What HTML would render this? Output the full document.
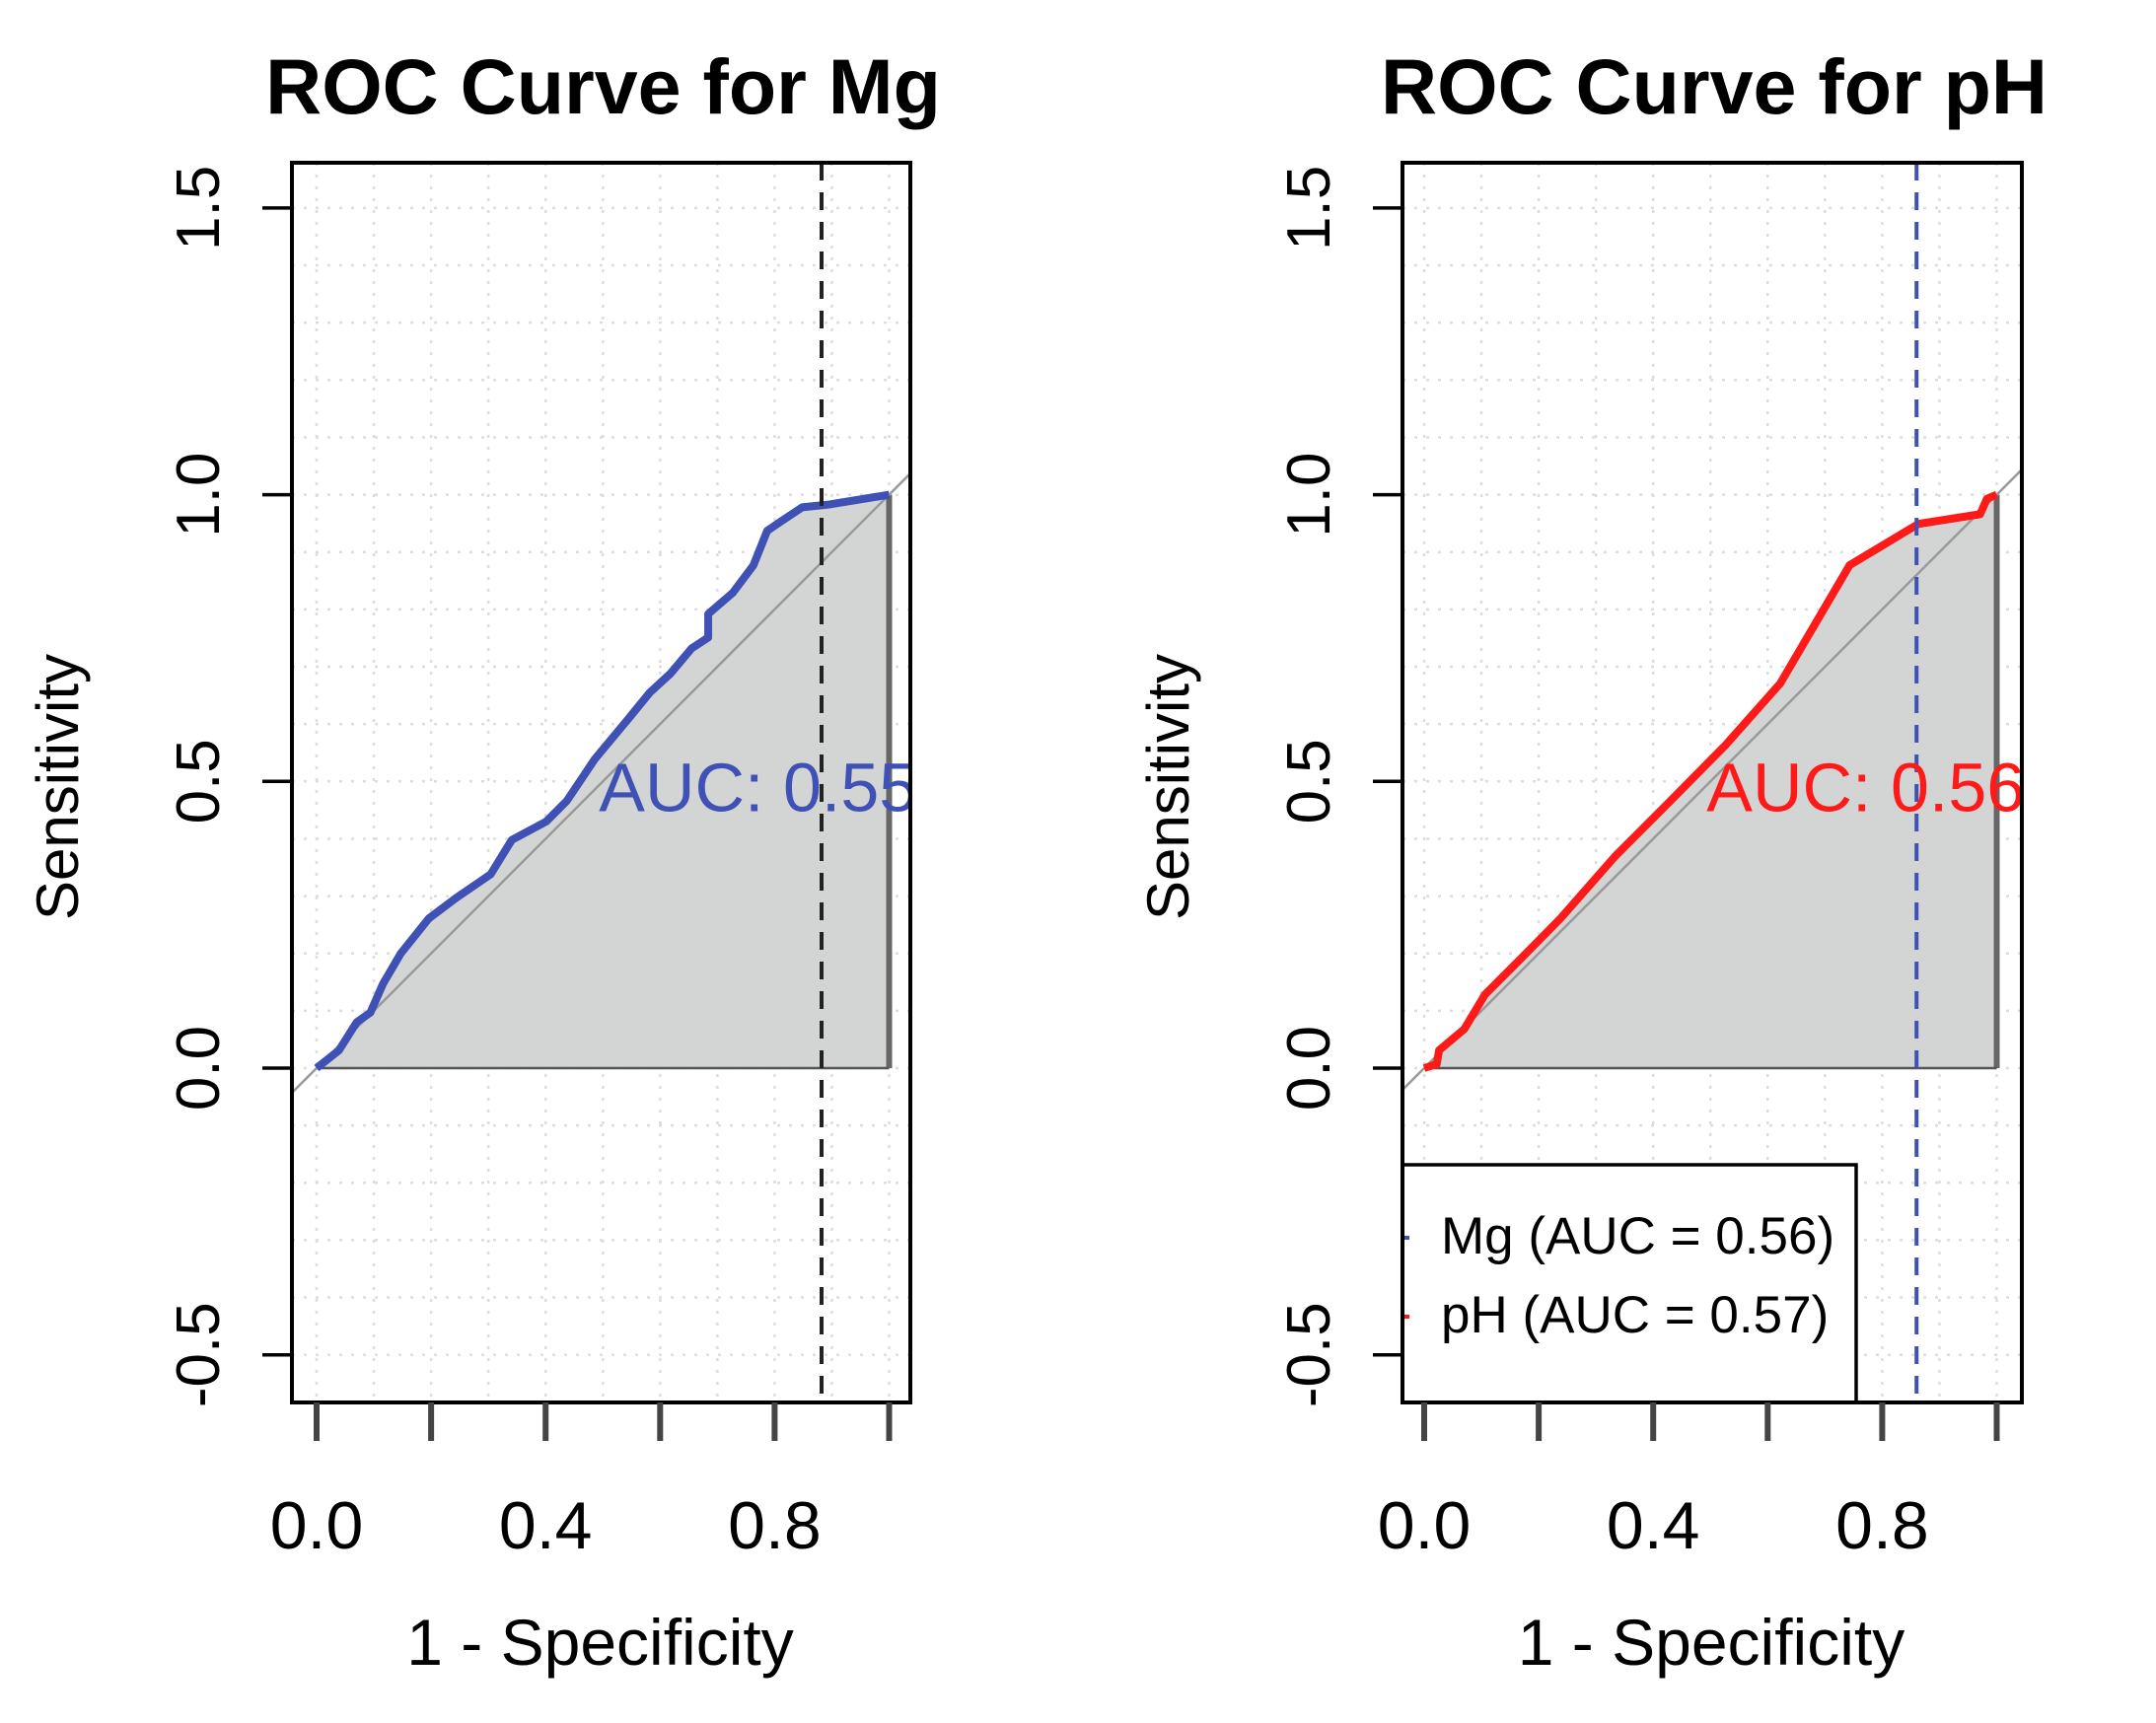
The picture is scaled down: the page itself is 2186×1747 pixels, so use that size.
<!DOCTYPE html>
<html><head><meta charset="utf-8"><style>
body{margin:0;background:#fff}
svg{display:block}
text{font-family:"Liberation Sans",Arial,sans-serif}
</style></head><body>
<svg id="c" width="2186" height="1747" viewBox="0 0 2186 1747" xmlns="http://www.w3.org/2000/svg"></svg>
<script>
// Mg panel data
const mgFpr = [0,0.039,0.07,0.094,0.116,0.147,0.196,0.244,0.304,0.341,0.401,0.437,0.486,0.546,0.582,0.618,0.655,0.684,0.684,0.727,0.763,0.787,0.812,0.848,0.896,1];
const mgTpr = [0,0.031,0.08,0.097,0.147,0.200,0.261,0.297,0.338,0.398,0.430,0.466,0.539,0.611,0.655,0.688,0.732,0.751,0.792,0.829,0.877,0.937,0.954,0.978,0.983,1];
// pH panel data
const phFpr = [0,0.022,0.026,0.07,0.106,0.166,0.238,0.334,0.430,0.526,0.622,0.743,0.803,0.863,0.971,0.983,1];
const phTpr = [0,0.007,0.031,0.068,0.128,0.188,0.261,0.370,0.466,0.563,0.671,0.877,0.913,0.949,0.966,0.993,1];
const xTicks = [0,0.2,0.4,0.6,0.8,1.0];
const xTickLabels = ["0.0","","0.4","","0.8",""];
const yTicks = [-0.5,0,0.5,1.0,1.5];
const yTickLabels = ["-0.5","0.0","0.5","1.0","1.5"];
const titles = ["ROC Curve for Mg","ROC Curve for pH"];
const aucLabels = ["AUC: 0.55","AUC: 0.56"];
const cutoffs = [0.882,0.86];
const legendLabels = ["Mg (AUC = 0.56)","pH (AUC = 0.57)"];

const NS="http://www.w3.org/2000/svg";
const svg=document.getElementById('c');
function mk(tag,attrs,parent){const e=document.createElementNS(NS,tag);for(const k in attrs)e.setAttribute(k,attrs[k]);(parent||svg).appendChild(e);return e;}

function panel(idx,ox,fpr,tpr,col,vcol,bx0,bx1){
  const g=mk('g',{});
  
  
  const sx=v=>ox+v*580.5;
  const sy=v=>1083-v*581.4;
  const top=165,bot=1422;
  const cid='clip'+idx;
  const cp=mk('clipPath',{id:cid},g);mk('rect',{x:bx0,y:top,width:bx1-bx0,height:bot-top},cp);
  const inner=mk('g',{'clip-path':'url(#'+cid+')'},g);
  for(let i=-1;i<=11;i++){const v=i/10;mk('line',{x1:sx(v),x2:sx(v),y1:top,y2:bot,stroke:'#ddd','stroke-width':2.5,'stroke-dasharray':'3 9'},inner);}
  for(let i=-7;i<=17;i++){const v=i/10;mk('line',{x1:bx0,x2:bx1,y1:sy(v),y2:sy(v),stroke:'#ddd','stroke-width':2.5,'stroke-dasharray':'3 9'},inner);}
  let d='M'+sx(fpr[0])+' '+sy(0);
  for(let i=0;i<fpr.length;i++)d+=' L'+sx(fpr[i])+' '+sy(tpr[i]);
  d+=' L'+sx(1)+' '+sy(0)+' Z';
  const f=mk('path',{d:d,fill:'#d3d5d5',stroke:'none'},inner);
  
  
  mk('line',{x1:sx(1),x2:sx(1),y1:sy(0),y2:sy(tpr[tpr.length-1]),stroke:'#666','stroke-width':6},inner);
  mk('line',{x1:sx(0),x2:sx(1),y1:sy(0),y2:sy(0),stroke:'#555','stroke-width':2.5},inner);
  const dg=mk('line',{x1:sx(-0.1),y1:sy(-0.1),x2:sx(1.2),y2:sy(1.2),stroke:'#999','stroke-width':2.5},inner);
  
  
  const pts=fpr.map((v,i)=>sx(v)+','+sy(tpr[i])).join(' ');
  const cv=mk('polyline',{points:pts,fill:'none',stroke:col,'stroke-width':8,'stroke-linejoin':'round'},inner);
  
  
  const cl=mk('line',{x1:sx(cutoffs[idx]),x2:sx(cutoffs[idx]),y1:top,y2:bot,stroke:vcol,'stroke-width':4,'stroke-dasharray':'18 12'},inner);
  
  
  const at=mk('text',{x:sx(0.5)-4,y:sy(0.455)+4,fill:col,'font-size':70},inner);
  at.textContent=aucLabels[idx];
  
  
  if(idx===1){
    const lg=mk('g',{},g);
    
    
    mk('rect',{x:bx0,y:1181,width:460,height:241,fill:'#fff',stroke:'#000','stroke-width':3.5},lg);
    const cols=['#3f51b5','#ff1a1a'];
    for(let k=0;k<2;k++){
      const y=1265+k*80;
      mk('line',{x1:bx0+1,x2:bx0+7,y1:y-10,y2:y-10,stroke:cols[k],'stroke-width':4},lg);
      const t=mk('text',{x:1461,y:y+6,'font-size':53,fill:'#000'},lg);
      t.textContent=legendLabels[k];
      
      
    }
  }
  mk('rect',{x:bx0,y:top,width:bx1-bx0,height:bot-top,fill:'none',stroke:'#000','stroke-width':4},g);
  xTicks.forEach((v,i)=>{
    mk('line',{x1:sx(v),x2:sx(v),y1:bot,y2:1461,stroke:'#444','stroke-width':6},g);
    if(xTickLabels[i]){const t=mk('text',{x:sx(v),y:1570,'font-size':68,'text-anchor':'middle'},g);t.textContent=xTickLabels[i];}
  });
  yTicks.forEach((v,i)=>{
    mk('line',{x1:bx0-30,x2:bx0,y1:sy(v),y2:sy(v),stroke:'#000','stroke-width':3.5},g);
    const tx=bx0-96;
    const t=mk('text',{x:tx,y:sy(v),'font-size':62,'text-anchor':'middle',transform:'rotate(-90 '+tx+' '+sy(v)+')'},g);
    t.setAttribute('dy','22');
    t.textContent=yTickLabels[i];
  });
  const yl=mk('text',{x:bx0-237,y:798,'font-size':60,'text-anchor':'middle',transform:'rotate(-90 '+(bx0-237)+' 798)'},g);
  yl.setAttribute('dy','20');
  yl.textContent='Sensitivity';
  
  
  const xl=mk('text',{x:(bx0+bx1)/2-1,y:1688,'font-size':66,'text-anchor':'middle'},g);
  xl.textContent='1 - Specificity';
  
  
  const tt=mk('text',{x:(bx0+bx1)/2+2,y:115,'font-size':79,'font-weight':'bold','text-anchor':'middle'},g);
  tt.textContent=titles[idx];
  
  
}
panel(0,321,mgFpr,mgTpr,'#3f51b5','#222',296,923);
panel(1,1444,phFpr,phTpr,'#ff1a1a','#3f51b5',1422,2050);
</script>
</body></html>
